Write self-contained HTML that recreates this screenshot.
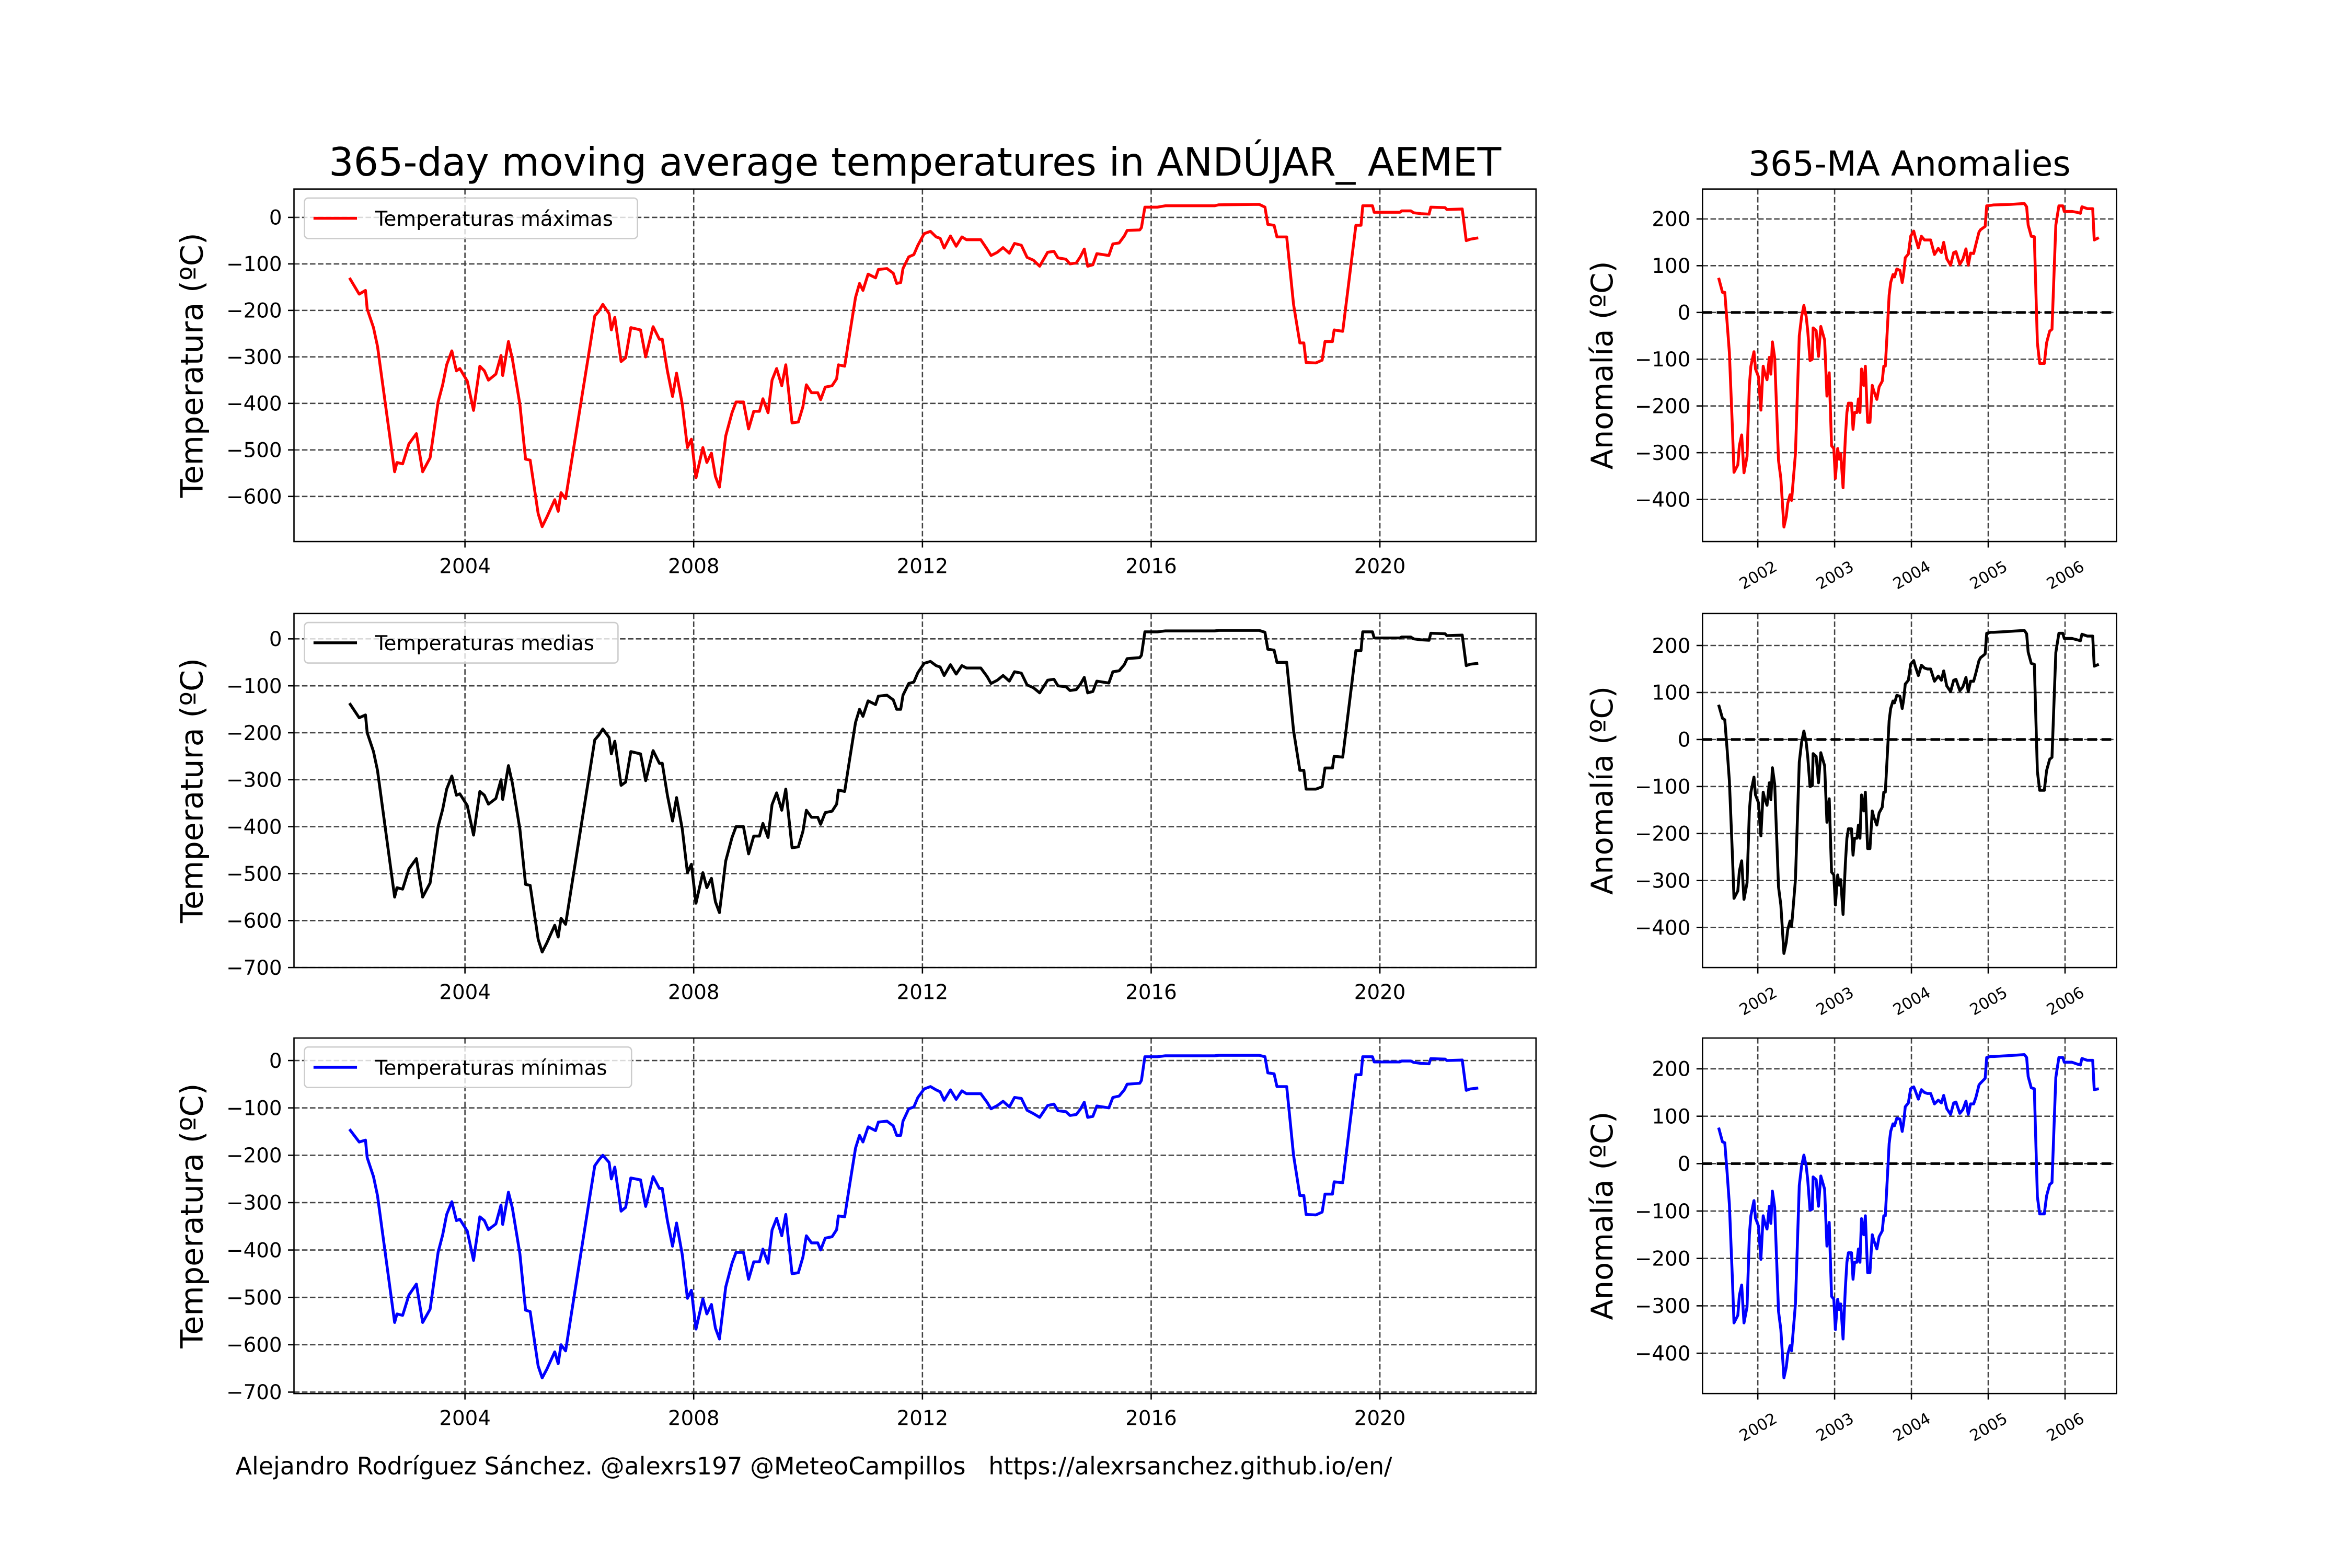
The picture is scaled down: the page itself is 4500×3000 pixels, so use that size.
<!DOCTYPE html>
<html><head><meta charset="utf-8"><title>365-day moving average temperatures</title>
<style>html,body{margin:0;padding:0;background:#fff}svg{display:block}text{font-family:"DejaVu Sans","Liberation Sans",sans-serif;fill:#000}</style>
</head><body>
<svg id="chart" xmlns="http://www.w3.org/2000/svg" width="4500" height="3000" viewBox="0 0 1568 1045.3">
<rect x="0" y="0" width="1568" height="1046" fill="#fff"/>
<text x="610" y="117" font-size="26" text-anchor="middle">365-day moving average temperatures in ANDÚJAR_ AEMET</text>
<text x="1273" y="117" font-size="23" text-anchor="middle">365-MA Anomalies</text>
<text x="157" y="983" font-size="16" style="white-space:pre">Alejandro Rodríguez Sánchez. @alexrs197 @MeteoCampillos   https://alexrsanchez.github.io/en/</text>
<g id="plots"></g>
</svg>
<script>
const mainYears = [2001.98,2002.15,2002.26,2002.29,2002.40,2002.47,2002.77,2002.81,2002.91,2003.02,2003.15,2003.26,2003.39,2003.53,2003.61,2003.68,2003.77,2003.85,2003.91,2004.04,2004.15,2004.26,2004.34,2004.41,2004.54,2004.63,2004.66,2004.76,2004.83,2004.96,2005.06,2005.14,2005.28,2005.35,2005.43,2005.57,2005.63,2005.68,2005.76,2005.88,2006.01,2006.16,2006.27,2006.34,2006.41,2006.52,2006.56,2006.62,2006.73,2006.81,2006.90,2007.07,2007.16,2007.29,2007.40,2007.45,2007.54,2007.63,2007.70,2007.80,2007.89,2007.96,2008.04,2008.16,2008.23,2008.31,2008.38,2008.45,2008.56,2008.67,2008.74,2008.87,2008.96,2009.05,2009.15,2009.21,2009.30,2009.37,2009.45,2009.54,2009.61,2009.72,2009.83,2009.91,2009.97,2010.06,2010.17,2010.22,2010.30,2010.42,2010.50,2010.53,2010.64,2010.72,2010.83,2010.90,2010.96,2011.05,2011.18,2011.23,2011.38,2011.49,2011.55,2011.62,2011.66,2011.76,2011.85,2011.92,2012.03,2012.14,
2012.24,2012.31,2012.38,2012.49,2012.59,2012.69,2012.77,2013.02,2013.13,2013.20,2013.31,2013.41,2013.52,2013.61,2013.73,2013.83,2013.94,2014.05,2014.19,2014.30,2014.37,2014.51,2014.58,2014.69,2014.76,2014.83,2014.89,2014.98,2015.05,2015.26,2015.33,2015.44,2015.53,2015.58,2015.80,2015.83,2015.89,2016.11,2016.25,2017.11,2017.18,2017.89,2017.99,2018.04,2018.15,2018.20,2018.37,2018.42,2018.49,2018.60,2018.67,2018.71,2018.88,2018.99,2019.04,2019.17,2019.20,2019.35,2019.58,2019.67,2019.70,2019.87,2019.90,2020.35,2020.38,2020.54,2020.59,2020.72,2020.86,2020.89,2021.14,2021.17,2021.44,2021.51,2021.58,2021.72];
const maxValues = [-130,-165,-157,-197,-237,-277,-547,-527,-530,-487,-465,-547,-517,-397,-360,-317,-287,-330,-325,-352,-415,-320,-330,-350,-337,-297,-340,-267,-305,-402,-520,-522,-637,-665,-645,-607,-632,-592,-605,-512,-412,-297,-212,-202,-187,-207,-242,-215,-310,-302,-237,-242,-300,-235,-262,-262,-330,-385,-335,-402,-495,-477,-560,-495,-527,-507,-557,-580,-470,-420,-397,-397,-455,-417,-417,-390,-420,-350,-325,-362,-317,-442,-440,-407,-360,-377,-377,-392,-365,-362,-347,-317,-320,-257,-172,-142,-157,-122,-130,-112,-110,-120,-142,-140,-110,-85,-80,-60,-35,-30,
-42,-45,-66,-40,-62,-42,-48,-48,-68,-82,-75,-65,-77,-56,-60,-86,-92,-105,-75,-73,-87,-90,-100,-98,-85,-68,-105,-102,-78,-82,-57,-55,-40,-28,-27,-22,22,22,25,25,27,28,22,-15,-17,-42,-42,-102,-187,-270,-270,-312,-313,-307,-267,-267,-242,-245,-17,-17,25,25,11,11,14,14,10,8,7,22,21,17,18,-50,-47,-44];
const meanValues = [-137,-168,-162,-200,-240,-280,-550,-530,-533,-490,-468,-550,-520,-400,-363,-320,-292,-333,-330,-355,-418,-325,-333,-352,-340,-300,-342,-270,-308,-405,-523,-525,-640,-667,-648,-610,-635,-595,-608,-515,-415,-300,-215,-205,-192,-210,-245,-218,-312,-305,-240,-245,-302,-238,-265,-265,-333,-388,-338,-405,-498,-480,-563,-498,-530,-510,-560,-583,-473,-423,-400,-400,-458,-420,-420,-393,-423,-353,-328,-365,-320,-445,-443,-410,-365,-380,-380,-395,-370,-367,-352,-322,-325,-262,-178,-150,-165,-132,-140,-122,-120,-130,-150,-150,-120,-95,-92,-72,-52,-48,
-57,-60,-78,-55,-75,-57,-62,-62,-80,-95,-88,-78,-90,-70,-73,-98,-104,-115,-88,-86,-100,-102,-110,-108,-97,-82,-115,-112,-90,-94,-70,-68,-55,-42,-40,-35,15,15,17,17,18,18,14,-22,-24,-50,-50,-110,-195,-280,-280,-320,-320,-315,-275,-275,-250,-252,-25,-25,15,15,2,2,4,4,0,-2,-3,12,11,7,8,-57,-54,-52];
const minValues = [-145,-172,-168,-205,-245,-285,-553,-535,-538,-495,-472,-553,-525,-405,-368,-325,-298,-338,-335,-360,-422,-330,-338,-357,-345,-305,-346,-278,-312,-408,-527,-530,-645,-670,-652,-615,-640,-600,-613,-520,-420,-305,-222,-210,-200,-215,-250,-225,-318,-310,-248,-252,-308,-245,-270,-270,-338,-392,-343,-410,-502,-485,-567,-503,-535,-515,-565,-588,-478,-428,-405,-405,-462,-425,-425,-398,-428,-358,-333,-370,-325,-450,-448,-415,-370,-385,-385,-400,-375,-372,-357,-328,-330,-268,-185,-158,-172,-140,-148,-130,-128,-138,-158,-158,-128,-102,-98,-78,-60,-55,
-62,-66,-84,-62,-82,-64,-70,-70,-88,-102,-95,-86,-98,-78,-80,-105,-112,-120,-95,-92,-106,-108,-116,-114,-103,-88,-120,-118,-96,-100,-78,-75,-62,-50,-48,-42,8,8,10,10,11,11,8,-26,-28,-55,-55,-115,-200,-285,-285,-325,-326,-320,-282,-282,-256,-258,-30,-30,8,8,-3,-3,-1,-1,-4,-6,-7,4,3,0,1,-63,-60,-58];

const anomYears = [2001.49,2001.54,2001.57,2001.60,2001.63,2001.67,2001.69,2001.74,2001.76,2001.79,2001.82,2001.86,2001.89,2001.91,2001.95,2001.97,2002.01,2002.04,2002.07,2002.09,2002.12,2002.15,2002.17,2002.19,2002.22,2002.27,2002.30,2002.34,2002.37,2002.39,2002.42,2002.44,2002.49,2002.54,2002.57,2002.60,2002.63,2002.65,2002.68,2002.71,2002.72,2002.76,2002.79,2002.82,2002.87,2002.90,2002.93,2002.96,2002.99,2003.01,2003.04,2003.06,2003.08,2003.11,2003.14,2003.16,2003.18,2003.22,2003.24,2003.26,2003.29,2003.31,2003.33,2003.35,2003.38,2003.40,2003.43,2003.46,2003.49,2003.51,2003.55,2003.58,2003.62,2003.64,2003.66,2003.68,2003.71,2003.73,2003.76,2003.78,2003.81,2003.85,2003.88,2003.90,2003.92,2003.96,2003.99,2004.03,2004.05,2004.09,2004.13,2004.17,2004.21,2004.25,2004.30,2004.35,2004.39,2004.42,2004.46,2004.51,2004.55,2004.58,2004.63,2004.67,2004.71,2004.74,2004.77,2004.81,2004.84,2004.88,2004.90,2004.96,2004.98,2005.03,2005.07,2005.28,2005.47,2005.50,2005.52,2005.56,2005.60,2005.64,2005.67,2005.73,2005.76,2005.80,2005.83,2005.88,2005.92,2005.97,2005.99,2006.09,2006.16,2006.20,2006.22,2006.29,2006.36,2006.38,2006.44];
const anomMax = [74,43,43,-21,-86,-250,-342,-326,-285,-262,-343,-308,-156,-115,-84,-121,-138,-209,-115,-129,-144,-96,-132,-63,-97,-317,-355,-459,-437,-408,-390,-402,-302,-50,-9,15,-9,-39,-103,-100,-33,-39,-94,-30,-59,-179,-129,-285,-291,-355,-291,-314,-302,-375,-267,-214,-194,-194,-250,-214,-214,-185,-214,-121,-156,-115,-235,-235,-156,-168,-186,-159,-147,-115,-115,-56,37,64,81,76,93,90,64,84,117,125,163,174,161,138,163,155,155,155,124,137,128,150,115,101,128,130,103,114,136,101,127,126,146,172,177,184,228,229,230,231,233,226,187,163,162,-65,-109,-109,-65,-40,-36,187,228,228,216,216,214,212,226,222,222,155,160];
const anomMean = [74,45,42,-20,-88,-248,-338,-322,-280,-258,-340,-305,-152,-112,-80,-118,-135,-205,-112,-126,-140,-92,-128,-60,-95,-314,-352,-455,-432,-404,-386,-398,-298,-48,-6,18,-6,-36,-100,-98,-30,-36,-92,-28,-56,-176,-126,-282,-288,-352,-288,-310,-298,-372,-264,-210,-190,-190,-246,-210,-210,-182,-210,-118,-152,-112,-232,-232,-152,-165,-182,-156,-144,-112,-112,-52,40,66,82,78,94,92,66,86,118,126,160,168,156,136,158,152,150,150,124,135,126,146,114,102,126,128,104,112,132,102,124,124,142,168,174,182,226,228,228,230,232,225,186,162,160,-68,-108,-108,-66,-42,-38,185,226,226,215,215,212,210,224,220,220,156,160];
const anomMin = [76,46,44,-18,-86,-246,-336,-320,-278,-256,-336,-302,-150,-110,-78,-115,-132,-202,-110,-124,-138,-90,-126,-58,-92,-312,-350,-452,-430,-402,-384,-395,-296,-46,-5,18,-5,-34,-98,-96,-28,-34,-90,-26,-54,-174,-124,-280,-286,-350,-286,-308,-296,-370,-262,-208,-188,-188,-244,-208,-208,-180,-208,-116,-150,-110,-230,-230,-150,-162,-180,-154,-142,-110,-110,-50,42,68,84,80,96,94,68,88,120,128,158,162,154,136,156,150,148,148,126,134,128,144,116,104,128,130,106,114,132,104,126,126,140,166,170,180,224,226,226,228,230,224,184,160,158,-70,-106,-106,-68,-44,-40,182,224,224,214,214,210,208,222,218,218,156,158];

const mainTicksX = [2004,2008,2012,2016,2020];
const mainTicksY = [0,-100,-200,-300,-400,-500,-600,-700];
const anomTicksX = [2002,2003,2004,2005,2006];
const anomTicksY = [200,100,0,-100,-200,-300,-400];

const NS = 'http://www.w3.org/2000/svg';
const root = document.getElementById('plots');
function mk(tag, attrs, parent){ const e=document.createElementNS(NS,tag); for(const k in attrs) e.setAttribute(k,attrs[k]); (parent||root).appendChild(e); return e; }
function fmt(v){ return v<0 ? '\u2212'+Math.abs(v) : String(v); }

function panel(opts){
  const g = mk('g',{});
  
  
  const L=opts.x0,R=opts.x1,T=opts.y0,B=opts.y1;
  const xs = v => L + (v-opts.xmin)/(opts.xmax-opts.xmin)*(R-L);
  const ys = v => T + (opts.ymax-v)/(opts.ymax-opts.ymin)*(B-T);
  opts.ticksX.forEach(t=>{
    const x=xs(t);
    const gl=mk('line',{x1:x,x2:x,y1:T,y2:B,stroke:'#444','stroke-width':0.9,'stroke-dasharray':'3.7,1.6'},g);
    
    
    mk('line',{x1:x,x2:x,y1:B,y2:B+4,stroke:'#000','stroke-width':0.9},g);
    if(opts.rotX){
      const tx=mk('text',{x:x,y:B+26,'font-size':10.5,'text-anchor':'middle',transform:`rotate(-30 ${x} ${B+22})`},g);
      tx.textContent=t;
      
      
    } else {
      const tx=mk('text',{x:x,y:B+21,'font-size':13.5,'text-anchor':'middle'},g);
      tx.textContent=t;
      
      
    }
  });
  opts.ticksY.forEach(t=>{
    const y=ys(t);
    if(y<T-0.5||y>B+0.5) return;
    const gl=mk('line',{x1:L,x2:R,y1:y,y2:y,stroke:'#444','stroke-width':0.9,'stroke-dasharray':'3.7,1.6'},g);
    
    
    mk('line',{x1:L-4,x2:L,y1:y,y2:y,stroke:'#000','stroke-width':0.9},g);
    const tx=mk('text',{x:L-8,y:y+4.8,'font-size':13.5,'text-anchor':'end'},g);
    tx.textContent=fmt(t);
    
    
  });
  if(opts.zeroLine){
    const z=mk('line',{x1:L,x2:R,y1:ys(0),y2:ys(0),stroke:'#000','stroke-width':1.8,'stroke-dasharray':'6.5,3'},g);
    
    
  }
  const n=Math.min(opts.xv.length,opts.yv.length);
  let d='';
  for(let i=0;i<n;i++){ d+=(i?'L':'M')+xs(opts.xv[i]).toFixed(2)+','+ys(opts.yv[i]).toFixed(2); }
  const p=mk('path',{d:d,fill:'none',stroke:opts.color,'stroke-width':1.9,'stroke-linejoin':'round'},g);
  
  
  const fr=mk('rect',{x:L,y:T,width:R-L,height:B-T,fill:'none',stroke:'#000','stroke-width':0.9},g);
  
  
  const yl=mk('text',{x:opts.ylabX,y:(T+B)/2,'font-size':opts.ylabSize,'text-anchor':'middle',transform:`rotate(-90 ${opts.ylabX} ${(T+B)/2})`},g);
  yl.textContent=opts.ylab;
  
  
  if(opts.legend){
    const lg=mk('g',{},g);
    
    
    const w=opts.legendW;
    mk('rect',{x:L+7,y:T+6,width:w,height:27,rx:2.5,fill:'#fff','fill-opacity':0.8,stroke:'#ccc','stroke-width':0.9},lg);
    mk('line',{x1:L+13,x2:L+42,y1:T+19.5,y2:T+19.5,stroke:opts.color,'stroke-width':1.9},lg);
    const lt=mk('text',{x:L+54,y:T+24.5,'font-size':13.5},lg);
    lt.textContent=opts.legend;
    
    
  }
}

const rows = [
  {y0:126,y1:361,ymax:61,ymin:-697,ay0:126,ay1:361,aymax:264,aymin:-490,color:'#ff0000',vals:maxValues,anom:anomMax,legend:'Temperaturas máximas',lw:222,key:'max'},
  {y0:409,y1:645,ymax:54,ymin:-700,ay0:409,ay1:645,aymax:268,aymin:-485,color:'#000000',vals:meanValues,anom:anomMean,legend:'Temperaturas medias',lw:209,key:'mean'},
  {y0:692,y1:929,ymax:47.5,ymin:-703,ay0:692,ay1:929,aymax:265,aymin:-485,color:'#0000ff',vals:minValues,anom:anomMin,legend:'Temperaturas mínimas',lw:218,key:'min'}
];
rows.forEach(r=>{
  panel({name:'main-panel-'+r.key,x0:196,x1:1024,y0:r.y0,y1:r.y1,xmin:2001.01,xmax:2022.73,ymin:r.ymin,ymax:r.ymax,
    ticksX:mainTicksX,ticksY:mainTicksY,xv:mainYears,yv:r.vals,color:r.color,seriesName:'series-'+r.key,
    ylab:'Temperatura (ºC)',ylabX:135,ylabSize:20.5,legend:r.legend,legendW:r.lw});
  panel({name:'anomaly-panel-'+r.key,x0:1135,x1:1411,y0:r.ay0,y1:r.ay1,xmin:2001.28,xmax:2006.67,ymin:r.aymin,ymax:r.aymax,
    ticksX:anomTicksX,ticksY:anomTicksY,xv:anomYears,yv:r.anom,color:r.color,seriesName:'anomaly-series-'+r.key,
    ylab:'Anomalía (ºC)',ylabX:1075,ylabSize:20,rotX:true,zeroLine:true});
});
</script>
</body></html>
